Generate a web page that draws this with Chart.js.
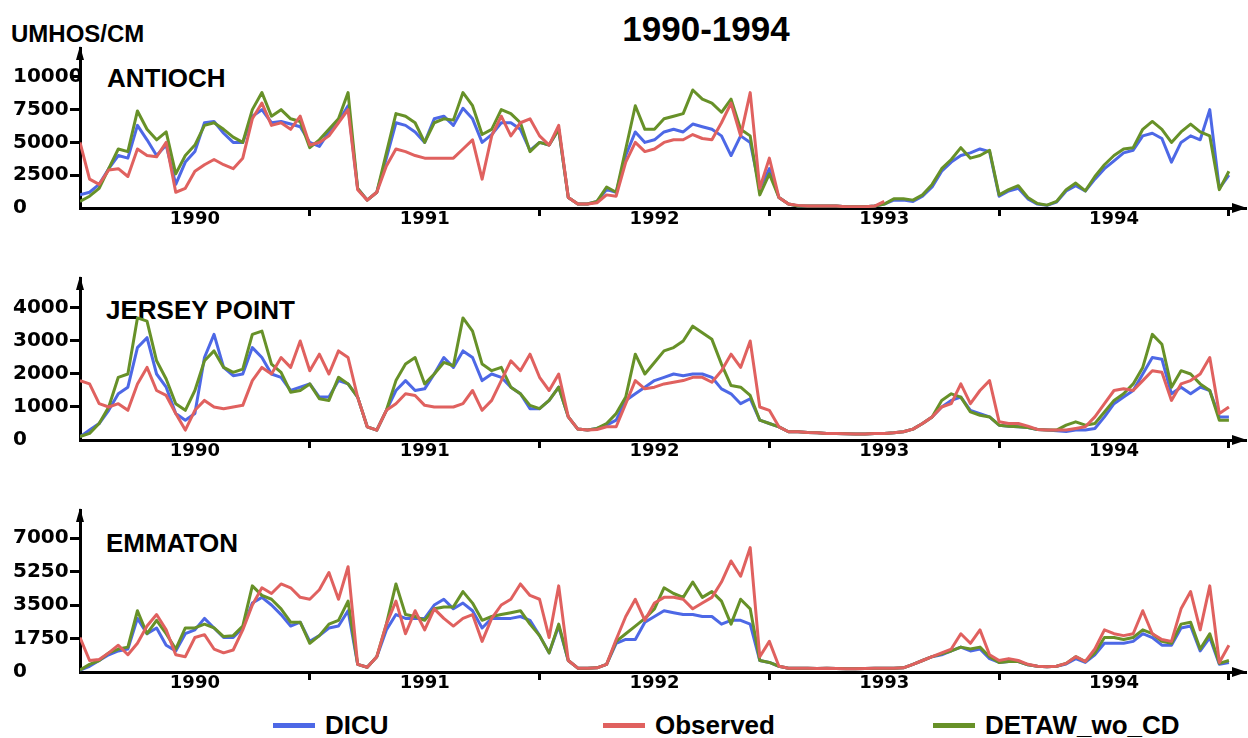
<!DOCTYPE html>
<html>
<head>
<meta charset="utf-8">
<script src="https://cdn.jsdelivr.net/npm/chart.js@4.4.0/dist/chart.umd.min.js"></script>
<style>
  body { margin: 0; background: #fff; width: 1248px; height: 738px; position: relative; overflow: hidden;
         font-family: "Liberation Sans", Arial, sans-serif; font-weight: bold; }
  .lbl { position: absolute; line-height: 1; white-space: nowrap; color: #000; }
  .key { position: absolute; width: 42px; height: 5px; }
  canvas { position: absolute; left: 0; }
</style>
</head>
<body>
<div class="lbl" style="left:11px;top:22px;font-size:24px">UMHOS/CM</div>
<div class="lbl" style="left:706px;top:11px;font-size:35px;transform:translateX(-50%)">1990-1994</div>
<div class="lbl" style="left:107px;top:65px;font-size:26px">ANTIOCH</div>
<div class="lbl" style="left:106px;top:297px;font-size:26px">JERSEY POINT</div>
<div class="lbl" style="left:106px;top:530px;font-size:26px">EMMATON</div>

<canvas id="c0" width="1248" height="235" style="top:0px"></canvas>
<canvas id="c1" width="1248" height="230" style="top:240px"></canvas>
<canvas id="c2" width="1248" height="240" style="top:470px"></canvas>

<div class="key" style="left:273px;top:723px;background:#4d68e6"></div>
<div class="lbl" style="left:325px;top:712px;font-size:26px">DICU</div>
<div class="key" style="left:603px;top:723px;background:#e0615f"></div>
<div class="lbl" style="left:655px;top:712px;font-size:26px">Observed</div>
<div class="key" style="left:933px;top:723px;background:#679128"></div>
<div class="lbl" style="left:985px;top:712px;font-size:26px">DETAW_wo_CD</div>

<script>
// half-month steps from the start of water year 1990 (x in years)
const steps = Array.from({length: 121}, (_, i) => i / 24);
const yearLabels = ['1990', '1991', '1992', '1993', '1994'];
const xTicks = [0.5, 1, 1.5, 2, 2.5, 3, 3.5, 4, 4.5, 5];

// ANTIOCH
const antiochTicks = [0, 2500, 5000, 7500, 10000];
const antiochDicu = [
  1000,1200,1800,3000,4000,3800,6300,5200,4000,4800,
  1800,3500,4300,6500,6600,5700,5000,5000,7000,7500,
  6500,6600,6400,6200,5000,4700,5800,6600,7800,1500,
  600,1200,3800,6500,6300,5800,5000,6800,7000,6300,
  7600,6800,5000,5600,6500,6500,6000,4400,5000,4800,
  6000,800,300,300,500,1400,1200,4000,5800,5000,
  5200,5800,6000,5800,6400,6200,6000,5500,4000,5500,
  5000,1500,3000,800,300,150,150,150,150,150,
  100,100,100,150,300,600,600,500,900,1600,
  2800,3500,4000,4200,4500,4300,900,1300,1500,700,
  300,200,450,1300,1700,1300,2200,3000,3600,4200,
  4400,5500,5700,5300,3500,5000,5500,5200,7500,1500,
  2500];
const antiochObs = [
  5000,2200,1800,2900,3000,2400,4500,4000,3900,5000,
  1200,1500,2800,3300,3700,3300,3000,3800,6800,8000,
  6300,6500,6000,7000,4800,5000,5500,6500,7500,1400,
  600,1200,3200,4500,4300,4000,3800,3800,3800,3800,
  4500,5200,2200,5500,7000,5500,6500,6800,5500,4800,
  6300,800,300,300,400,1000,900,3500,5000,4300,
  4500,5000,5200,5200,5600,5300,5200,6500,8000,5500,
  8800,1500,3800,800,300,200,150,150,150,150,
  100,100,100,150,500,null,null,null,null,null,
  null,null,null,null,null,null,null,null,null,null,
  null,null,null,null,null,null,null,null,null,null,
  null,null,null,null,null,null,null,null,null,null,
  null];
const antiochDetaw = [
  500,900,1500,3000,4500,4300,7400,6000,5200,5800,
  2600,4000,4800,6300,6500,6000,5400,5000,7500,8800,
  7000,7500,6800,6600,4600,5200,6000,6800,8800,1500,
  600,1200,4200,7200,7000,6500,5000,6500,6800,6700,
  8800,7800,5600,6000,7500,7200,6500,4300,5000,4800,
  6000,800,300,300,500,1600,1200,4500,7800,6000,
  6000,6800,7000,7200,9000,8300,8000,7300,8300,6000,
  5500,1000,2600,800,300,150,150,150,150,150,
  100,100,100,150,300,700,700,600,1000,1800,
  3000,3700,4600,3800,4000,4400,1000,1400,1700,800,
  350,220,500,1400,1900,1300,2400,3300,4000,4500,
  4600,6000,6600,6000,5000,5800,6400,5800,5500,1400,
  2800];

// JERSEY POINT
const jerseyTicks = [0, 1000, 2000, 3000, 4000];
const jerseyDicu = [
  100,300,500,900,1400,1600,2800,3100,2000,1600,
  800,600,800,2500,3200,2200,1950,2000,2800,2500,
  2000,1900,1500,1600,1700,1300,1300,1800,1700,1300,
  400,300,900,1500,1800,1500,1550,2000,2500,2200,
  2700,2500,1800,2000,1900,1600,1400,950,950,1200,
  1600,700,330,300,350,450,600,1200,1400,1600,
  1800,1900,2000,1950,2000,2000,1900,1550,1400,1100,
  1250,600,500,400,250,250,230,220,200,200,
  190,180,180,200,200,220,250,330,500,700,
  1000,1200,1300,900,800,700,450,420,400,380,
  320,300,280,260,300,300,350,700,1100,1300,
  1500,2000,2500,2450,1400,1600,1400,1600,1500,700,
  700];
const jerseyObs = [
  1800,1700,1100,1000,1100,900,1700,2200,1500,1350,
  800,300,900,1200,1000,950,1000,1050,1800,2200,
  2000,2500,2200,3000,2100,2600,2000,2700,2500,1300,
  400,300,900,1100,1400,1350,1050,1000,1000,1000,
  1100,1500,900,1200,1800,2400,2100,2600,1900,1500,
  2000,700,330,300,320,400,400,1100,1800,1550,
  1600,1700,1750,1800,1900,1900,1750,2100,2600,2200,
  3000,1000,900,400,250,250,230,220,200,200,
  190,180,180,200,200,220,250,330,500,700,
  1000,1100,1700,1100,1500,1800,550,500,500,420,
  320,300,300,300,350,400,700,1100,1500,1550,
  1500,1800,2100,2050,1200,1700,1800,2000,2500,800,
  1000];
const jerseyDetaw = [
  100,200,500,1000,1900,2000,3700,3600,2400,1850,
  1100,900,1500,2400,2700,2200,2050,2150,3200,3300,
  2300,2050,1450,1500,1700,1250,1200,1900,1700,1300,
  400,300,900,1800,2300,2500,1700,2000,2350,2250,
  3700,3300,2300,2100,2200,1600,1400,1050,950,1200,
  1600,700,330,300,350,500,800,1300,2600,2000,
  2350,2700,2800,3000,3450,3250,3050,2300,1650,1600,
  1350,600,500,400,250,250,230,220,200,200,
  190,180,180,200,200,220,250,330,500,700,
  1200,1400,1300,850,750,700,450,420,400,380,
  320,300,300,450,550,450,500,850,1200,1400,
  1700,2200,3200,2900,1600,2100,2000,1700,1500,600,
  600];

// EMMATON
const emmatonTicks = [0, 1750, 3500, 5250, 7000];
const emmatonDicu = [
  100,300,600,900,1100,1200,2800,2000,2300,1400,
  1100,2000,2200,2800,2300,1800,1800,2300,3600,3900,
  3500,3000,2400,2600,1600,1900,2300,2400,3200,400,
  250,800,2200,3000,2800,2800,2800,3500,3800,3300,
  3600,3200,2300,2800,2800,2800,2900,2700,1900,1000,
  2400,600,200,200,220,400,1500,1700,1700,2600,
  2900,3200,3100,3000,3000,2900,2900,2500,2700,2700,
  2500,600,500,300,200,200,200,180,200,180,
  170,170,180,200,200,200,220,400,600,800,
  900,1100,1300,1100,1200,700,500,550,550,380,
  300,280,300,420,700,500,900,1500,1500,1500,
  1600,2000,1800,1400,1400,2300,2400,1100,1800,400,
  500];
const emmatonObs = [
  1800,600,650,1000,1400,900,1500,2400,3000,2200,
  900,800,1800,1950,1200,1000,1150,2200,3500,4400,
  4100,4600,4400,3900,3800,4300,5200,3800,5500,400,
  250,800,2500,3700,2000,3200,2200,3300,2800,2400,
  2800,3000,1600,2800,3500,3800,4600,4000,3800,1800,
  4500,600,200,200,220,400,1700,2900,3800,2700,
  3600,3900,3900,3800,3300,3600,3900,4700,5800,5000,
  6500,800,1600,300,200,200,200,180,200,180,
  170,170,180,200,200,200,220,400,600,800,
  1000,1200,2000,1500,2200,900,600,700,600,400,
  300,280,300,450,800,550,1200,2200,2000,1900,
  2000,3200,2000,1700,1600,3300,4200,2200,4500,500,
  1400];
const emmatonDetaw = [
  100,400,600,1000,1200,1300,3200,2000,2700,2000,
  1200,2300,2300,2500,2300,1850,1900,2400,4500,4000,
  3800,3300,2600,2600,1500,1900,2500,2700,3700,400,
  250,800,2500,4600,3000,2900,2700,3300,3400,3400,
  4200,3600,2700,2900,3000,3100,3200,2500,1900,1000,
  2500,600,200,200,220,400,1600,2000,2400,2800,
  3300,4400,4100,3900,4700,3900,4200,3700,2500,3800,
  3300,600,500,300,200,200,200,180,200,180,
  170,170,180,200,200,200,220,400,600,800,
  950,1100,1300,1200,1300,800,500,550,550,380,
  300,280,300,450,800,550,1000,1800,1800,1700,
  1800,2200,2000,1600,1500,2500,2600,1200,2000,450,
  600];

Chart.defaults.font.family = '"DejaVu Sans", sans-serif';
Chart.defaults.font.weight = 'bold';
Chart.defaults.color = '#000';

const BLUE = '#4d68e6', RED = '#e0615f', GREEN = '#679128';

// arrow heads on both axes
const arrows = {
  id: 'arrows',
  afterDraw(chart) {
    const { ctx, chartArea: a } = chart;
    ctx.save();
    ctx.fillStyle = '#000';
    ctx.beginPath();
    ctx.moveTo(a.left, a.top - 2);
    ctx.lineTo(a.left - 4, a.top + 12);
    ctx.lineTo(a.left + 4, a.top + 12);
    ctx.closePath();
    ctx.fill();
    ctx.beginPath();
    ctx.moveTo(a.right + 2, a.bottom);
    ctx.lineTo(a.right - 13, a.bottom - 5);
    ctx.lineTo(a.right - 13, a.bottom + 5);
    ctx.closePath();
    ctx.fill();
    ctx.restore();
  }
};

const pts = vals => vals.map((v, i) => ({ x: steps[i], y: v }));

function line(label, color, vals, order) {
  return { label, data: pts(vals), borderColor: color, borderWidth: 3,
           borderJoinStyle: 'round', pointRadius: 0, order: order, spanGaps: false };
}

function panel(id, areaTop, areaBottom, yMax, yTicks, dicu, obs, detaw) {
  const canvas = document.getElementById(id);
  const h = canvas.height;
  new Chart(canvas, {
    type: 'line',
    data: {
      datasets: [
        line('DICU', BLUE, dicu, 2),
        line('Observed', RED, obs, 0),
        line('DETAW_wo_CD', GREEN, detaw, 1)
      ]
    },
    options: {
      responsive: false,
      animation: false,
      layout: { padding: { left: 13, right: 3, top: areaTop, bottom: 0 } },
      plugins: { legend: { display: false }, tooltip: { enabled: false } },
      scales: {
        x: {
          type: 'linear', min: 0, max: 5.07,
          afterFit: s => { s.height = h - areaBottom; },
          afterBuildTicks: s => { s.ticks = xTicks.map(v => ({ value: v })); },
          border: { display: true, color: '#000', width: 3 },
          grid: {
            drawOnChartArea: false, drawTicks: true, tickLength: 8, lineWidth: 3,
            color: c => (c.tick && Number.isInteger(c.tick.value)) ? '#000' : 'rgba(0,0,0,0)'
          },
          ticks: {
            padding: -7, maxRotation: 0, autoSkip: false,
            font: { size: 18, weight: 'bold' },
            callback: v => Number.isInteger(v) ? '' : yearLabels[Math.floor(v)]
          }
        },
        y: {
          min: 0, max: yMax,
          afterFit: s => { s.width = 67; },
          afterBuildTicks: s => { s.ticks = yTicks.map(v => ({ value: v })); },
          border: { display: true, color: '#000', width: 3 },
          grid: {
            drawOnChartArea: false, drawTicks: true, tickLength: 10, lineWidth: 3,
            color: c => (c.tick && c.tick.value === 0) ? 'rgba(0,0,0,0)' : '#000'
          },
          ticks: {
            crossAlign: 'far', autoSkip: false,
            font: { size: 20, weight: 'bold' },
            callback: v => String(v)
          }
        }
      }
    },
    plugins: [arrows]
  });
}

panel('c0', 48, 208, 12200, antiochTicks, antiochDicu, antiochObs, antiochDetaw);
panel('c1', 38, 200, 4909, jerseyTicks, jerseyDicu, jerseyObs, jerseyDetaw);
panel('c2', 40, 202, 8463, emmatonTicks, emmatonDicu, emmatonObs, emmatonDetaw);
</script>
</body>
</html>
